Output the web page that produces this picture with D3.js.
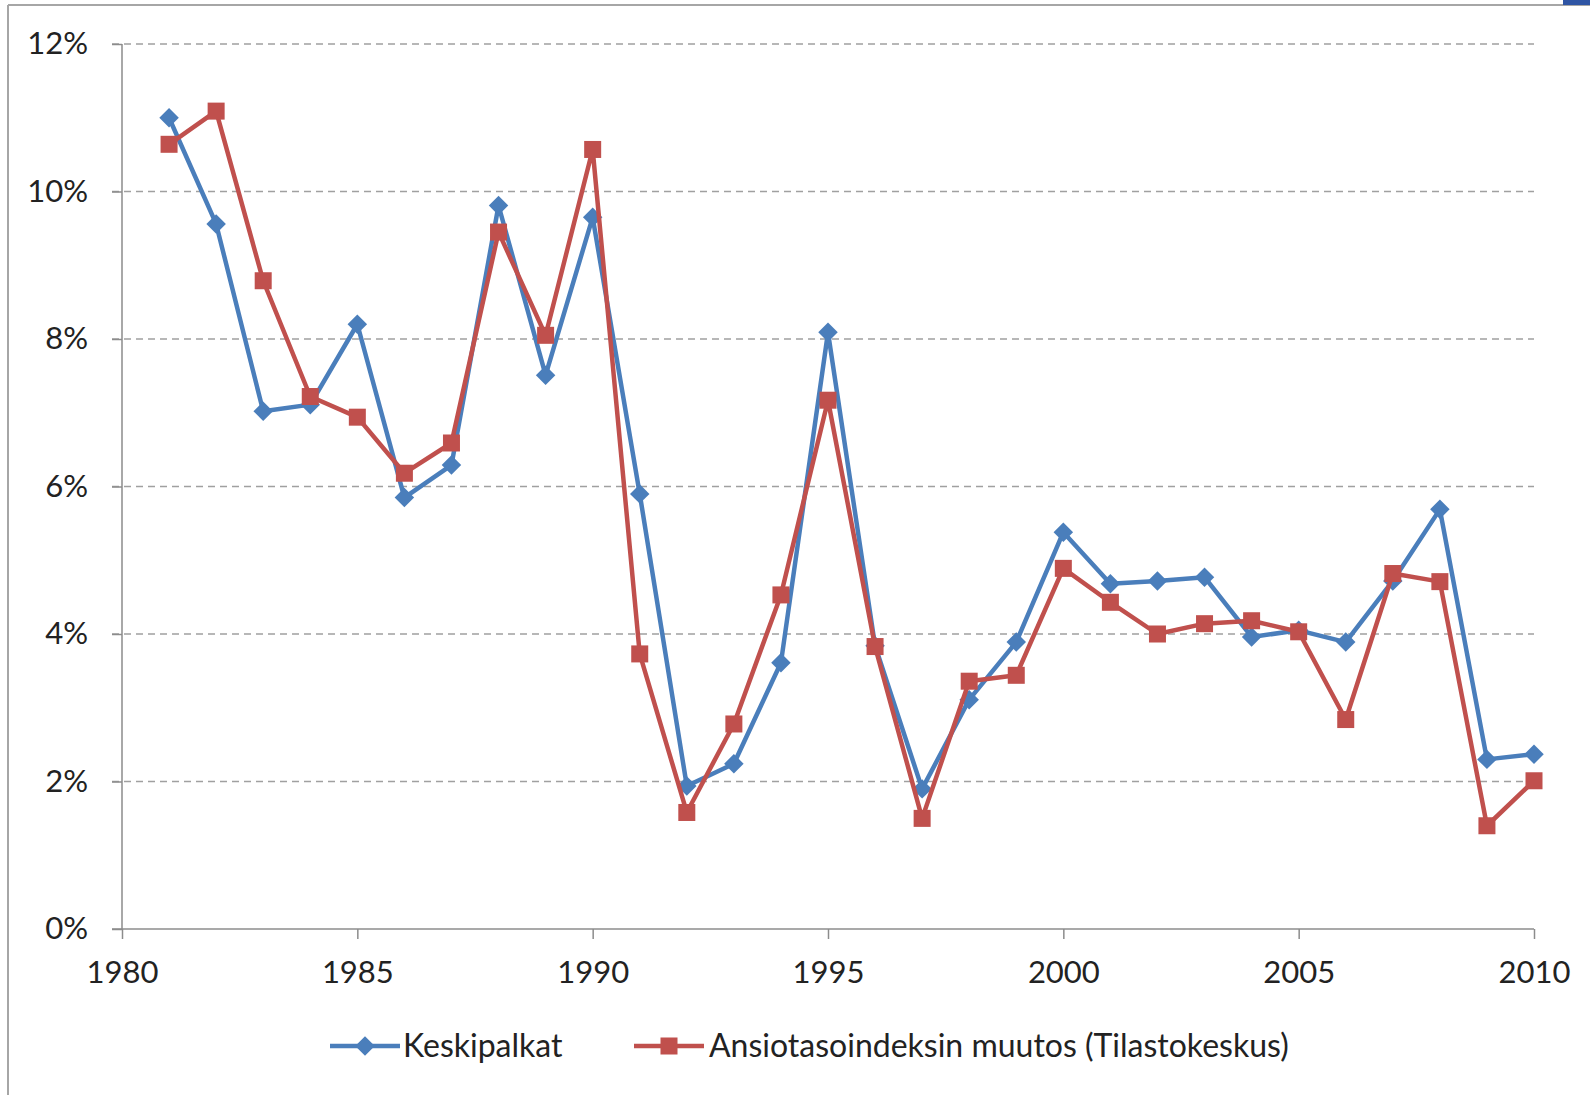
<!DOCTYPE html>
<html><head><meta charset="utf-8">
<script src="https://cdn.jsdelivr.net/npm/d3@7"></script>
<style>body{margin:0;background:#fff;}svg{display:block;font-family:Lato,"Open Sans",sans-serif;}</style>
</head><body>
<svg id="c" width="1590" height="1095"></svg>
<script>
const years = [1981,1982,1983,1984,1985,1986,1987,1988,1989,1990,1991,1992,1993,1994,1995,1996,1997,1998,1999,2000,2001,2002,2003,2004,2005,2006,2007,2008,2009,2010];
const keskipalkat = [11.0,9.56,7.02,7.11,8.20,5.85,6.29,9.81,7.51,9.65,5.90,1.94,2.24,3.61,8.09,3.84,1.90,3.11,3.89,5.38,4.68,4.72,4.77,3.96,4.05,3.89,4.72,5.69,2.30,2.37];
const ansiotaso = [10.64,11.09,8.79,7.22,6.94,6.18,6.59,9.45,8.05,10.57,3.73,1.58,2.78,4.53,7.17,3.83,1.50,3.36,3.44,4.89,4.43,4.00,4.14,4.18,4.03,2.84,4.82,4.71,1.40,2.01];
const xTicks = [1980,1985,1990,1995,2000,2005,2010];
const yTicks = [0,2,4,6,8,10,12];
const seriesNames = ["Keskipalkat","Ansiotasoindeksin muutos (Tilastokeskus)"];

const svg = d3.select("#c");
const blue = "#4a7ebb", red = "#c0504d";
const x = d3.scaleLinear().domain([1980,2010]).range([122,1534]);
const y = d3.scaleLinear().domain([0,12]).range([929,44]);

// frame
svg.append("line").attr("x1",8).attr("x2",1590).attr("y1",5).attr("y2",5).attr("stroke","#a6a6a6").attr("stroke-width",2);
svg.append("line").attr("x1",8).attr("x2",8).attr("y1",5).attr("y2",1095).attr("stroke","#a6a6a6").attr("stroke-width",2);
svg.append("rect").attr("x",1563).attr("y",0).attr("width",27).attr("height",5).attr("fill","#2f55a4");

// gridlines
svg.append("g").selectAll("line").data(yTicks.filter(d=>d>0)).join("line")
  .attr("x1",112).attr("x2",1534).attr("y1",d=>y(d)).attr("y2",d=>y(d))
  .attr("stroke","#a0a0a0").attr("stroke-width",1.5).attr("stroke-dasharray","7,5");

// y axis
const yAxis = svg.append("g").attr("transform",`translate(${x(1980)},0)`)
  .call(d3.axisLeft(y).tickValues(yTicks).tickSize(10).tickPadding(24).tickFormat(d=>d+"%"));
yAxis.select(".domain").attr("stroke","#8c8c8c").attr("stroke-width",1.5).attr("d",`M-10,${y(0)}H0V${y(12)}`);
yAxis.selectAll(".tick line").attr("stroke","#8c8c8c").attr("stroke-width",1.5);
yAxis.selectAll("text").attr("font-size",31).attr("fill","#222").attr("font-family","Lato");

// x axis
const xAxis = svg.append("g").attr("transform",`translate(0,${y(0)})`)
  .call(d3.axisBottom(x).tickValues(xTicks).tickSize(10).tickPadding(22).tickFormat(d3.format("d")));
xAxis.select(".domain").attr("stroke","#8c8c8c").attr("stroke-width",1.5).attr("d",`M${x(1980)},0H${x(2010)}`);
xAxis.selectAll(".tick line").attr("stroke","#8c8c8c").attr("stroke-width",1.5);
xAxis.selectAll("text").attr("font-size",31).attr("fill","#222").attr("font-family","Lato");

const line = d3.line().x((d,i)=>x(years[i])).y(d=>y(d));
const diamond = d3.symbol(d3.symbolSquare,190)();
function drawSeries(vals,color,shape){
  svg.append("path").datum(vals).attr("d",line).attr("fill","none").attr("stroke",color).attr("stroke-width",4.5).attr("stroke-linejoin","round");
  const g = svg.append("g");
  if(shape==="diamond"){
    g.selectAll("path").data(vals).join("path")
      .attr("d",diamond)
      .attr("transform",(d,i)=>`translate(${x(years[i])},${y(d)}) rotate(45)`).attr("fill",color);
  } else {
    g.selectAll("rect").data(vals).join("rect")
      .attr("x",(d,i)=>x(years[i])-8.5).attr("y",d=>y(d)-8.5).attr("width",17).attr("height",17).attr("fill",color);
  }
}
drawSeries(keskipalkat,blue,"diamond");
drawSeries(ansiotaso,red,"square");

// legend
const ly = 1046;
const lg = svg.append("g");
lg.append("line").attr("x1",330).attr("x2",400).attr("y1",ly).attr("y2",ly).attr("stroke",blue).attr("stroke-width",4.5);
lg.append("path").attr("d",diamond).attr("transform",`translate(365,${ly}) rotate(45)`).attr("fill",blue);
lg.append("text").attr("x",403).attr("y",ly).attr("dy","0.35em").attr("font-size",32).attr("fill","#222").text(seriesNames[0]);
lg.append("line").attr("x1",634).attr("x2",704).attr("y1",ly).attr("y2",ly).attr("stroke",red).attr("stroke-width",4.5);
lg.append("rect").attr("x",660.5).attr("y",ly-8.5).attr("width",17).attr("height",17).attr("fill",red);
lg.append("text").attr("x",709).attr("y",ly).attr("dy","0.35em").attr("font-size",32).attr("fill","#222").text(seriesNames[1]);
</script>
</body></html>
